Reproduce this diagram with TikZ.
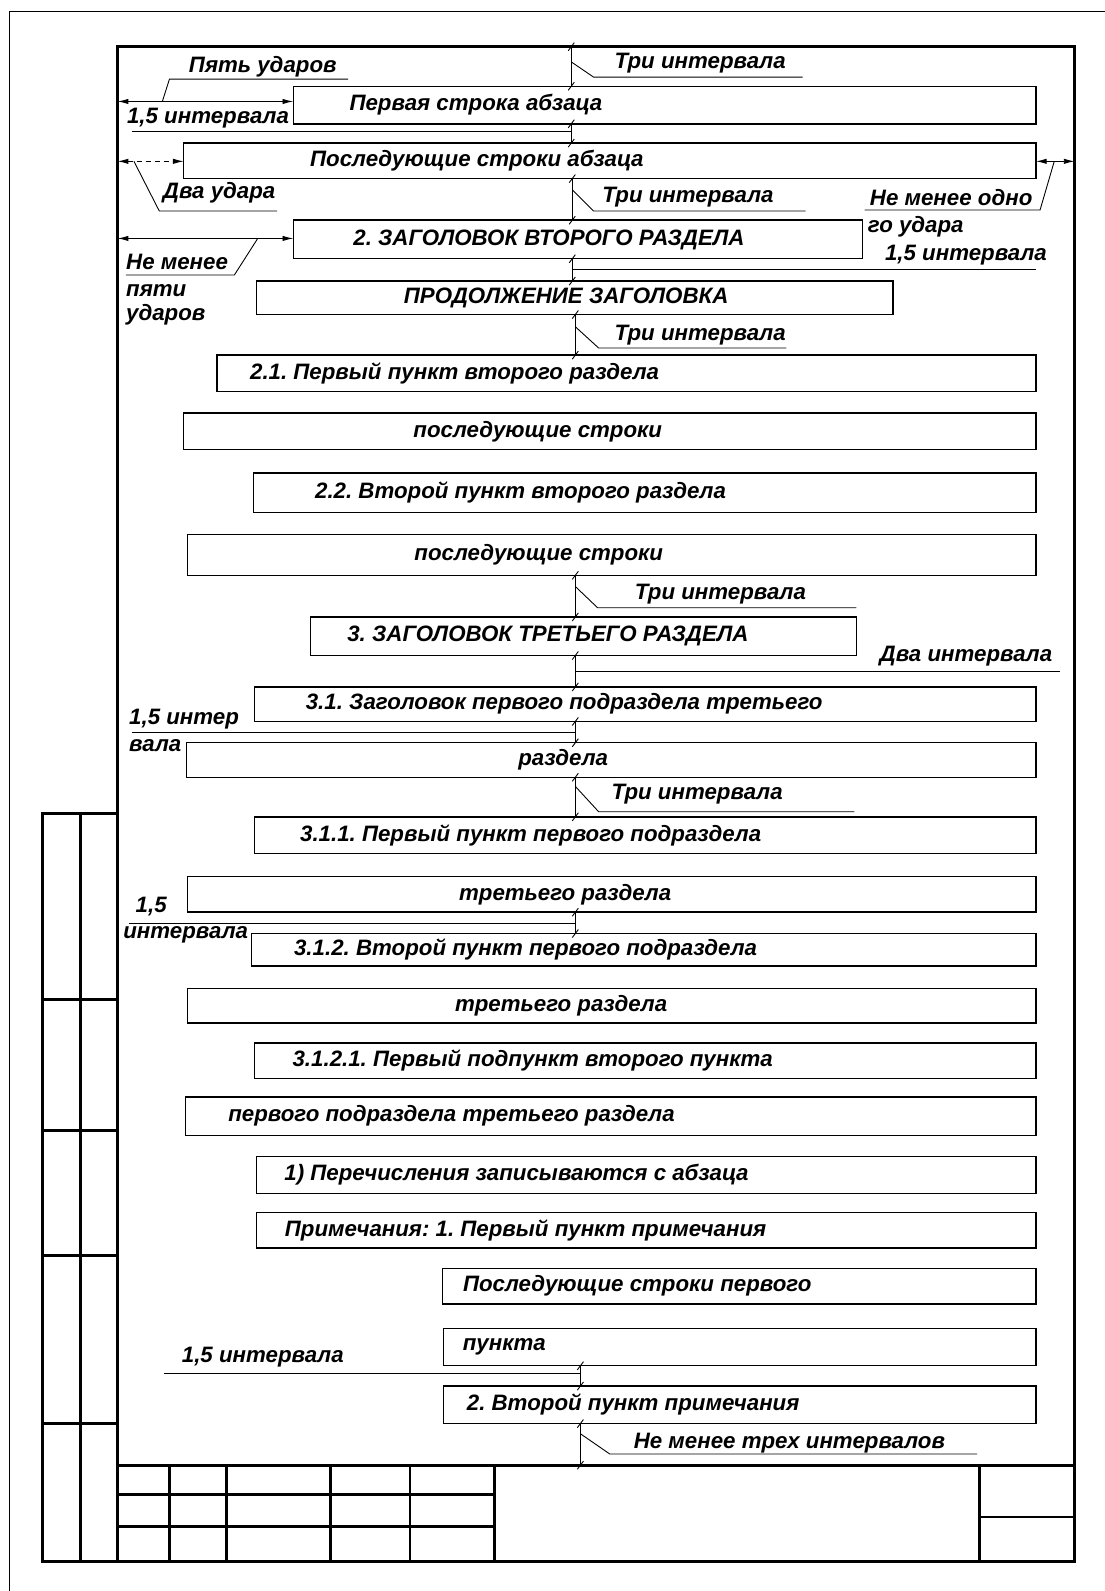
\documentclass[tikz,border=0pt]{standalone}
\usepackage{fontspec}
\setmainfont{Liberation Sans}
\usetikzlibrary{arrows.meta}
\frenchspacing

% vertical spacing mark with ticks at both ends
\newcommand{\vdim}[3]{%
  \draw[leader] (#1,#2) -- (#1,#3);
  \draw[leader] (#1,#2) ++(-3,4) -- ++(6,-8);
  \draw[leader] (#1,#3) ++(-3,4) -- ++(6,-8);}

\begin{document}
\begin{tikzpicture}[x=0.02cm, y=-0.02cm,
  frameline/.style={line width=1.6pt},
  parabox/.style={line width=0.8pt},
  leader/.style={line width=0.5pt},
  dimarrow/.style={line width=0.5pt, {Latex[length=6pt,width=3pt]}-{Latex[length=6pt,width=3pt]}},
  lbl/.style={font=\fontsize{12.5}{14}\selectfont\bfseries\itshape\frenchspacing, inner sep=0pt}]
\useasboundingbox (0,0) rectangle (1089,1568);

% sheet edge and frame
\draw[leader] (9,1568) -- (9,11) -- (1089,11);
\draw[frameline] (116,46) rectangle (1059,1539);

% side stamp
\draw[frameline] (116,802) -- (42,802) -- (42,1539) -- (116,1539);
\draw[frameline] (79,802) -- (79,1539);
\foreach \y in {985,1114,1237,1403}
  \draw[frameline] (42,\y) -- (116,\y);

% bottom stamp
\draw[frameline] (116,1444) -- (1059,1444);
\draw[frameline] (116,1473) -- (487,1473);
\draw[frameline] (116,1504) -- (487,1504);
\foreach \x in {167,223,326,404,487,965}
  \draw[frameline] (\x,1444) -- (\x,1539);
\draw[frameline] (965,1495) -- (1059,1495);

% paragraph lines
\draw[parabox] (289,85) rectangle (1021,122);
\draw[parabox] (181,141) rectangle (1021,176);
\draw[parabox] (289,217) rectangle (850,255);
\draw[parabox] (253,277) rectangle (880,310);
\draw[parabox] (214,350) rectangle (1021,386);
\draw[parabox] (181,407) rectangle (1021,443);
\draw[parabox] (250,466) rectangle (1021,505);
\draw[parabox] (185,527) rectangle (1021,567);
\draw[parabox] (306,608) rectangle (844,646);
\draw[parabox] (251,677) rectangle (1021,711);
\draw[parabox] (184,732) rectangle (1021,766);
\draw[parabox] (251,805) rectangle (1021,841);
\draw[parabox] (185,864) rectangle (1021,899);
\draw[parabox] (248,920) rectangle (1021,952);
\draw[parabox] (185,974) rectangle (1021,1008);
\draw[parabox] (251,1028) rectangle (1021,1063);
\draw[parabox] (183,1081) rectangle (1021,1119);
\draw[parabox] (253,1140) rectangle (1021,1176);
\draw[parabox] (253,1195) rectangle (1021,1230);
\draw[parabox] (436,1250) rectangle (1021,1285);
\draw[parabox] (437,1309) rectangle (1021,1346);
\draw[parabox] (437,1366) rectangle (1021,1403);

% paragraph texts
\node[lbl] (firstline) at (469,103.5) {Первая строка абзаца};
\node[lbl] (nextlines) at (470,158.5) {Последующие строки абзаца};
\node[lbl] (headtwo) at (541,236) {2. ЗАГОЛОВОК ВТОРОГО РАЗДЕЛА};
\node[lbl] (headcont) at (558,293.5) {ПРОДОЛЖЕНИЕ ЗАГОЛОВКА};
\node[lbl] (itemone) at (448,368) {2.1. Первый пункт второго раздела};
\node[lbl] (itemonenext) at (530,425) {последующие строки};
\node[lbl] (itemtwo) at (513,485.5) {2.2. Второй пункт второго раздела};
\node[lbl] (itemtwonext) at (531,547) {последующие строки};
\node[lbl] (headthree) at (540,627) {3. ЗАГОЛОВОК ТРЕТЬЕГО РАЗДЕЛА};
\node[lbl] (subhead) at (556,694) {3.1. Заголовок первого подраздела третьего};
\node[lbl] (subheadnext) at (555,749) {раздела};
\node[lbl] (subitemone) at (523,823) {3.1.1. Первый пункт первого подраздела};
\node[lbl] (subitemonenext) at (557,881.5) {третьего раздела};
\node[lbl] (subitemtwo) at (518,936) {3.1.2. Второй пункт первого подраздела};
\node[lbl] (subitemtwonext) at (553,991) {третьего раздела};
\node[lbl] (point) at (525,1045.5) {3.1.2.1. Первый подпункт второго пункта};
\node[lbl] (pointnext) at (445,1100) {первого подраздела третьего раздела};
\node[lbl] (enum) at (509,1158) {1) Перечисления записываются с абзаца};
\node[lbl] (noteone) at (518,1212.5) {Примечания: 1. Первый пункт примечания};
\node[lbl] (noteonenext) at (628,1267.5) {Последующие строки первого};
\node[lbl] (noteonelast) at (497,1327.5) {пункта};
\node[lbl] (notetwo) at (624,1384.5) {2. Второй пункт примечания};

% indents
\draw[dimarrow] (116,100) -- (289,100);
\draw[dimarrow, densely dashed] (116,159) -- (181,159);
\draw[dimarrow] (116,235) -- (289,235);
\draw[dimarrow] (1021,159) -- (1059,159);
\node[lbl] (fivestrokes) at (259,66) {Пять ударов};
\draw[leader] (160,100) -- (167,78) -- (343,78);
\node[lbl] (twostrokes) at (216,190) {Два удара};
\draw[leader] (132,159) -- (157,208) -- (273,208);
\node[lbl, anchor=west] (notless) at (124,258) {Не менее};
\node[lbl, anchor=west] (notlessb) at (124,286) {пяти};
\node[lbl, anchor=west] (notlessc) at (124,310) {ударов};
\draw[leader] (124,271) -- (231,271) -- (254,235);
\node[lbl, anchor=west] (onestroke) at (857,195) {Не менее одно};
\node[lbl, anchor=west] (onestrokeb) at (855,223) {го удара};
\draw[leader] (1039,159) -- (1025,207) -- (852,207);

% vertical spacing
\vdim{563}{46}{85}
\vdim{563}{122}{141}
\vdim{564}{176}{217}
\vdim{564}{255}{277}
\vdim{567}{310}{350}
\vdim{567}{567}{608}
\vdim{567}{646}{677}
\vdim{567}{711}{732}
\vdim{567}{766}{805}
\vdim{567}{899}{920}
\vdim{572}{1346}{1366}
\vdim{572}{1403}{1444}

% spacing labels
\node[lbl] (threea) at (690,62) {Три интервала};
\draw[leader] (563,61) -- (585,76) -- (791,76);
\node[lbl] (halfa) at (205,116) {1,5 интервала};
\draw[leader] (130,130) -- (563,130);
\node[lbl] (threeb) at (678,194) {Три интервала};
\draw[leader] (564,187) -- (585,208) -- (794,208);
\node[lbl] (halfb) at (952,251) {1,5 интервала};
\draw[leader] (564,266) -- (1021,266);
\node[lbl] (threec) at (690,330) {Три интервала};
\draw[leader] (567,322) -- (590,343) -- (775,343);
\node[lbl] (threed) at (710,586) {Три интервала};
\draw[leader] (567,578) -- (589,599) -- (844,599);
\node[lbl] (twoint) at (952,647) {Два интервала};
\draw[leader] (567,662) -- (1045,662);
\node[lbl, anchor=west] (halfc) at (127,709) {1,5 интер};
\node[lbl, anchor=west] (halfcb) at (127,735) {вала};
\draw[leader] (130,722) -- (567,722);
\node[lbl] (threee) at (687,783) {Три интервала};
\draw[leader] (567,775) -- (590,800) -- (842,800);
\node[lbl] (halfd) at (149,893) {1,5};
\node[lbl] (halfdb) at (183,921) {интервала};
\draw[leader] (127,910) -- (567,910);
\node[lbl] (halfe) at (259,1338) {1,5 интервала};
\draw[leader] (162,1354) -- (572,1354);
\node[lbl] (threef) at (778,1422) {Не менее трех интервалов};
\draw[leader] (572,1413) -- (601,1433) -- (963,1433);
\end{tikzpicture}
\end{document}
